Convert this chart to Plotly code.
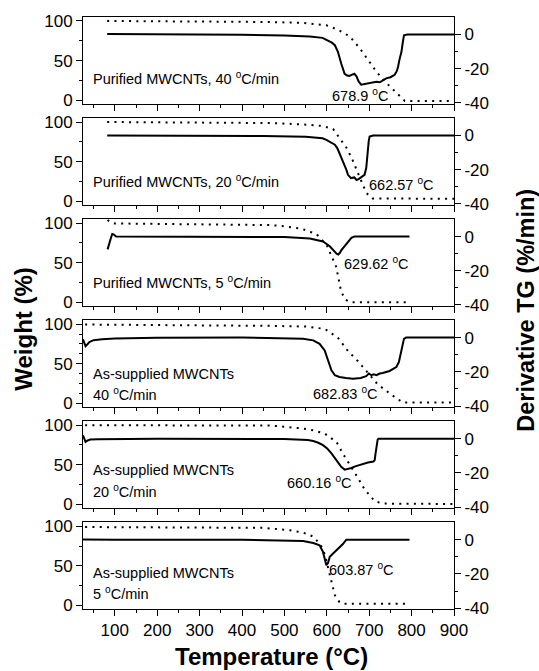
import plotly.graph_objects as go

# ---------------- data ----------------
# Panel 1: Purified MWCNTs, 40 C/min
p1_wt_T = [82, 200, 300, 400, 466, 544, 599, 626, 654, 677, 696, 717, 738, 762, 784, 900]
p1_wt = [100, 99.6, 99.3, 99, 98.7, 97.5, 94.5, 89, 80.5, 66, 51, 36, 23, 10.6, -1, -1]
p1_dtg_T = [82, 200, 300, 400, 500, 560, 590, 603, 612, 619, 626, 634, 642, 648, 653, 660, 665, 670,
            675, 681, 690, 699, 708, 717, 725, 733, 740, 750, 760, 765, 768, 772, 776, 779, 782, 790, 900]
p1_dtg = [0.2, 0.1, 0, -0.2, -0.6, -1.2, -2, -3.4, -4.8, -6.3, -10, -17, -23, -24, -24.3, -23.5, -23,
          -24.5, -27.5, -29.4, -29, -28.7, -28.3, -27.7, -28, -27, -25.7, -25, -23.6, -21.5, -19, -14,
          -10.3, -5, -0.5, 0, 0]

# Panel 2: Purified MWCNTs, 20 C/min
p2_wt_T = [82, 200, 300, 400, 466, 544, 590, 615, 626, 647, 660, 670, 684, 694, 708, 900]
p2_wt = [100, 99.7, 99.4, 99, 98.7, 97, 95, 91, 83, 67, 53, 39, 22, 10, 3.5, 3]
p2_dtg_T = [82, 200, 300, 450, 550, 590, 599, 610, 619, 625, 630, 636, 642, 646, 650, 657, 665, 670,
            675, 680, 685, 689, 693, 695, 697, 699, 701, 709, 900]
p2_dtg = [0, 0, 0, -0.3, -0.8, -1.6, -2.5, -4, -5.4, -7.5, -10.3, -13.5, -17, -20, -23, -24.9, -24.5,
          -26, -25.5, -24.5, -24, -23, -19, -13, -7.6, -3, -0.6, 0, 0]

# Panel 3: Purified MWCNTs, 5 C/min
p3_wt_T = [83, 90, 100, 300, 466, 500, 540, 576, 600, 622, 629, 634, 645, 655, 787]
p3_wt = [104, 101, 99.5, 98.8, 97.5, 96, 93, 86, 72, 45, 28, 13, 3, 0, 0]
p3_dtg_T = [83, 87, 91, 94, 97, 103, 200, 400, 500, 560, 591, 607, 615, 623, 627, 631, 634, 640, 646,
            652, 658, 665, 795]
p3_dtg = [-7.5, -3.5, -0.7, 1.5, 1.3, 0, 0, 0, -0.3, -1.2, -2.9, -5.7, -8, -10, -10.5, -9.5, -8, -6.3,
          -4.6, -2.6, -0.7, 0, 0]

# Panel 4: As-supplied MWCNTs, 40 C/min
p4_wt_T = [30, 200, 300, 466, 550, 595, 626, 650, 673, 697, 720, 752, 779, 900]
p4_wt = [99.5, 99, 98.5, 97.8, 97, 94, 83, 66, 53.5, 39, 24, 11, 1, 1]
p4_dtg_T = [25, 28, 31, 35, 40, 50, 70, 100, 200, 400, 500, 544, 568, 583, 595, 603, 611, 619, 630,
            645, 662, 680, 693, 699, 705, 711, 717, 725, 732, 748, 764, 770, 773, 776, 779, 782, 787, 900]
p4_dtg = [-1, -3, -5, -4, -2.6, -1.5, -0.9, -0.5, -0.1, 0, -0.2, -0.6, -1.6, -3.6, -7.5, -13.3, -19.1,
          -22, -23, -23.6, -24, -23.6, -22.5, -21, -22, -21.5, -22, -21, -20.7, -19.5, -17.2, -14.3,
          -11, -7.5, -3.5, -0.7, 0, 0]

# Panel 5: As-supplied MWCNTs, 20 C/min
p5_wt_T = [30, 200, 300, 470, 540, 568, 595, 623, 638, 654, 673, 689, 713, 732, 900]
p5_wt = [100, 99.8, 99.7, 99.5, 96, 93.6, 89.4, 78.7, 64, 51, 34, 19, 4, 1, 0.5]
p5_dtg_T = [25, 28, 31, 35, 42, 60, 200, 500, 555, 568, 580, 591, 601, 611, 620, 626, 634, 642, 650,
            658, 667, 677, 697, 710, 713, 715, 717, 720, 722, 900]
p5_dtg = [2, 0.5, -1.9, -1.2, -0.5, -0.3, -0.1, -0.2, -0.8, -1.4, -2.4, -3.8, -5.8, -8.6, -11.8, -14.3,
          -16.5, -18.1, -17.8, -17.1, -16.2, -15.3, -13.9, -13.4, -12.5, -8.6, -4, -0.5, 0, 0]

# Panel 6: As-supplied MWCNTs, 5 C/min
p6_wt_T = [30, 200, 450, 513, 544, 568, 585, 595, 607, 619, 630, 638, 785]
p6_wt = [99, 98.8, 98, 95, 92, 87, 77, 65, 40, 13, 4, 2, 2]
p6_dtg_T = [25, 100, 400, 500, 528, 544, 568, 583, 591, 595, 599, 603, 607, 613, 619, 630, 638, 646, 795]
p6_dtg = [0.2, 0, 0, -0.2, -0.4, -0.7, -1.9, -3.2, -7.1, -12, -14.9, -13.5, -10, -8.5, -7.1, -4.6,
          -2.5, 0, 0]

sample_labels = [
    ["Purified MWCNTs, 40 <sup>o</sup>C/min"],
    ["Purified MWCNTs, 20 <sup>o</sup>C/min"],
    ["Purified MWCNTs, 5 <sup>o</sup>C/min"],
    ["As-supplied MWCNTs", "40 <sup>o</sup>C/min"],
    ["As-supplied MWCNTs", "20 <sup>o</sup>C/min"],
    ["As-supplied MWCNTs", "5 <sup>o</sup>C/min"],
]
peak_labels = ["678.9 <sup>o</sup>C", "662.57 <sup>o</sup>C", "629.62 <sup>o</sup>C",
               "682.83 <sup>o</sup>C", "660.16 <sup>o</sup>C", "603.87 <sup>o</sup>C"]

x_tick_vals = [100, 200, 300, 400, 500, 600, 700, 800, 900]
left_tick_vals = [0, 50, 100]
right_tick_vals = [0, -20, -40]
right_tick_text = ["0", "-20", "-40"]

weights = [(p1_wt_T, p1_wt), (p2_wt_T, p2_wt), (p3_wt_T, p3_wt),
           (p4_wt_T, p4_wt), (p5_wt_T, p5_wt), (p6_wt_T, p6_wt)]
dtgs = [(p1_dtg_T, p1_dtg), (p2_dtg_T, p2_dtg), (p3_dtg_T, p3_dtg),
        (p4_dtg_T, p4_dtg), (p5_dtg_T, p5_dtg), (p6_dtg_T, p6_dtg)]

# ---------------- layout geometry ----------------
FONT = "Liberation Sans, Arial, Helvetica, sans-serif"
W, H = 539, 671
ML, MR, MT, MB = 83, 85, 15, 62
PH = H - MT - MB  # 594
PANEL_H = 87
PITCH = 101.4

# label positions (T on x axis, value on that panel's axis)
label_pos = [[(44, 28.4)], [(44, 26)], [(44, 25.4)],
             [(44, 37.5), (44, 11.4)], [(44, 43.4), (44, 17)], [(44, 41.4), (44, 15.6)]]
peak_pos = [(677.5, -35.3), (775.6, -28.5), (718, -15.3), (644.5, -32.3), (583, -25.6), (681.5, -17.4)]
minor_left = [25, 25, 25, 12.5, 25, 25]

fig = go.Figure()
layout = dict(
    width=W, height=H,
    margin=dict(l=ML, r=MR, t=MT, b=MB, pad=0),
    paper_bgcolor="white", plot_bgcolor="white",
    showlegend=False,
    font=dict(family=FONT, size=17, color="black"),
)
annotations = []

for i in range(6):
    top_px = MT + i * PITCH
    bot_px = top_px + PANEL_H
    dom = [(H - MB - bot_px) / PH, (H - MB - top_px) / PH]
    xn = "" if i == 0 else str(i + 1)
    yl = "" if i == 0 else str(2 * i + 1)
    yr = str(2 * i + 2)
    xref = "x" + xn
    ylref = "y" + yl
    yrref = "y" + yr

    layout["xaxis" + xn] = dict(
        domain=[0, 1], anchor=ylref, range=[25, 900],
        showline=True, linecolor="black", linewidth=1, mirror=True,
        ticks="outside", ticklen=6, tickwidth=1, tickcolor="black",
        tickmode="array", tickvals=x_tick_vals,
        showticklabels=(i == 5), tickfont=dict(size=17, family=FONT),
        minor=dict(ticks="outside", ticklen=3, tickcolor="black", tickmode="array",
                   tickvals=[50, 150, 250, 350, 450, 550, 650, 750, 850], showgrid=False),
        showgrid=False, zeroline=False, fixedrange=True,
    )
    layout["yaxis" + yl] = dict(
        domain=dom, anchor=xref, range=[-4.5, 105],
        showline=True, linecolor="black", linewidth=1, mirror=False,
        ticks="outside", ticklen=6, tickcolor="black",
        tickmode="array", tickvals=left_tick_vals,
        minor=dict(ticks="outside", ticklen=3, tickcolor="black", dtick=minor_left[i], tick0=0,
                   showgrid=False),
        tickfont=dict(size=17, family=FONT),
        showgrid=False, zeroline=False,
    )
    layout["yaxis" + yr] = dict(
        overlaying=ylref, anchor=xref, side="right", range=[-40.5, 10.2],
        showline=True, linecolor="black", linewidth=1,
        ticks="outside", ticklen=6, tickcolor="black",
        tickmode="array", tickvals=right_tick_vals, ticktext=right_tick_text,
        minor=dict(ticks="outside", ticklen=3, tickcolor="black", tickmode="array",
                   tickvals=[-10, -30], showgrid=False),
        tickfont=dict(size=17, family=FONT),
        showgrid=False, zeroline=False,
    )

    wt_T, wt = weights[i]
    fig.add_trace(go.Scatter(x=wt_T, y=wt, xaxis=xref, yaxis=ylref, mode="lines",
                             line=dict(color="black", width=2, dash="2px,5.3px"),
                             hoverinfo="skip"))
    d_T, d = dtgs[i]
    fig.add_trace(go.Scatter(x=d_T, y=d, xaxis=xref, yaxis=yrref, mode="lines",
                             line=dict(color="black", width=2), hoverinfo="skip"))

    for (tx, ty), txt in zip(label_pos[i], sample_labels[i]):
        annotations.append(dict(x=tx, y=ty, xref=xref, yref=ylref, text=txt, showarrow=False,
                                xanchor="left", yanchor="middle",
                                font=dict(size=14.5, family=FONT, color="black")))
    px_, py_ = peak_pos[i]
    annotations.append(dict(x=px_, y=py_, xref=xref, yref=yrref, text=peak_labels[i],
                            showarrow=False, xanchor="center", yanchor="middle",
                            font=dict(size=14.5, family=FONT, color="black")))

# axis titles
def px_to_paper_x(px):
    return (px - ML) / (W - ML - MR)

def px_to_paper_y(py):
    return (H - MB - py) / PH

annotations.append(dict(x=px_to_paper_x(23.3), y=px_to_paper_y(327.5), xref="paper", yref="paper",
                        text="<b>Weight (%)</b>", textangle=-90, showarrow=False,
                        xanchor="center", yanchor="middle",
                        font=dict(size=24, family=FONT, color="black")))
annotations.append(dict(x=px_to_paper_x(525.7), y=px_to_paper_y(309), xref="paper", yref="paper",
                        text="<b>Derivative TG (%/min)</b>", textangle=-90, showarrow=False,
                        xanchor="center", yanchor="middle",
                        font=dict(size=23.5, family=FONT, color="black")))
annotations.append(dict(x=px_to_paper_x(271.7), y=px_to_paper_y(657), xref="paper", yref="paper",
                        text="<b>Temperature (°C)</b>", showarrow=False,
                        xanchor="center", yanchor="middle",
                        font=dict(size=24, family=FONT, color="black")))

layout["annotations"] = annotations
fig.update_layout(**layout)
fig.write_html("out.html", config={"displayModeBar": False})
